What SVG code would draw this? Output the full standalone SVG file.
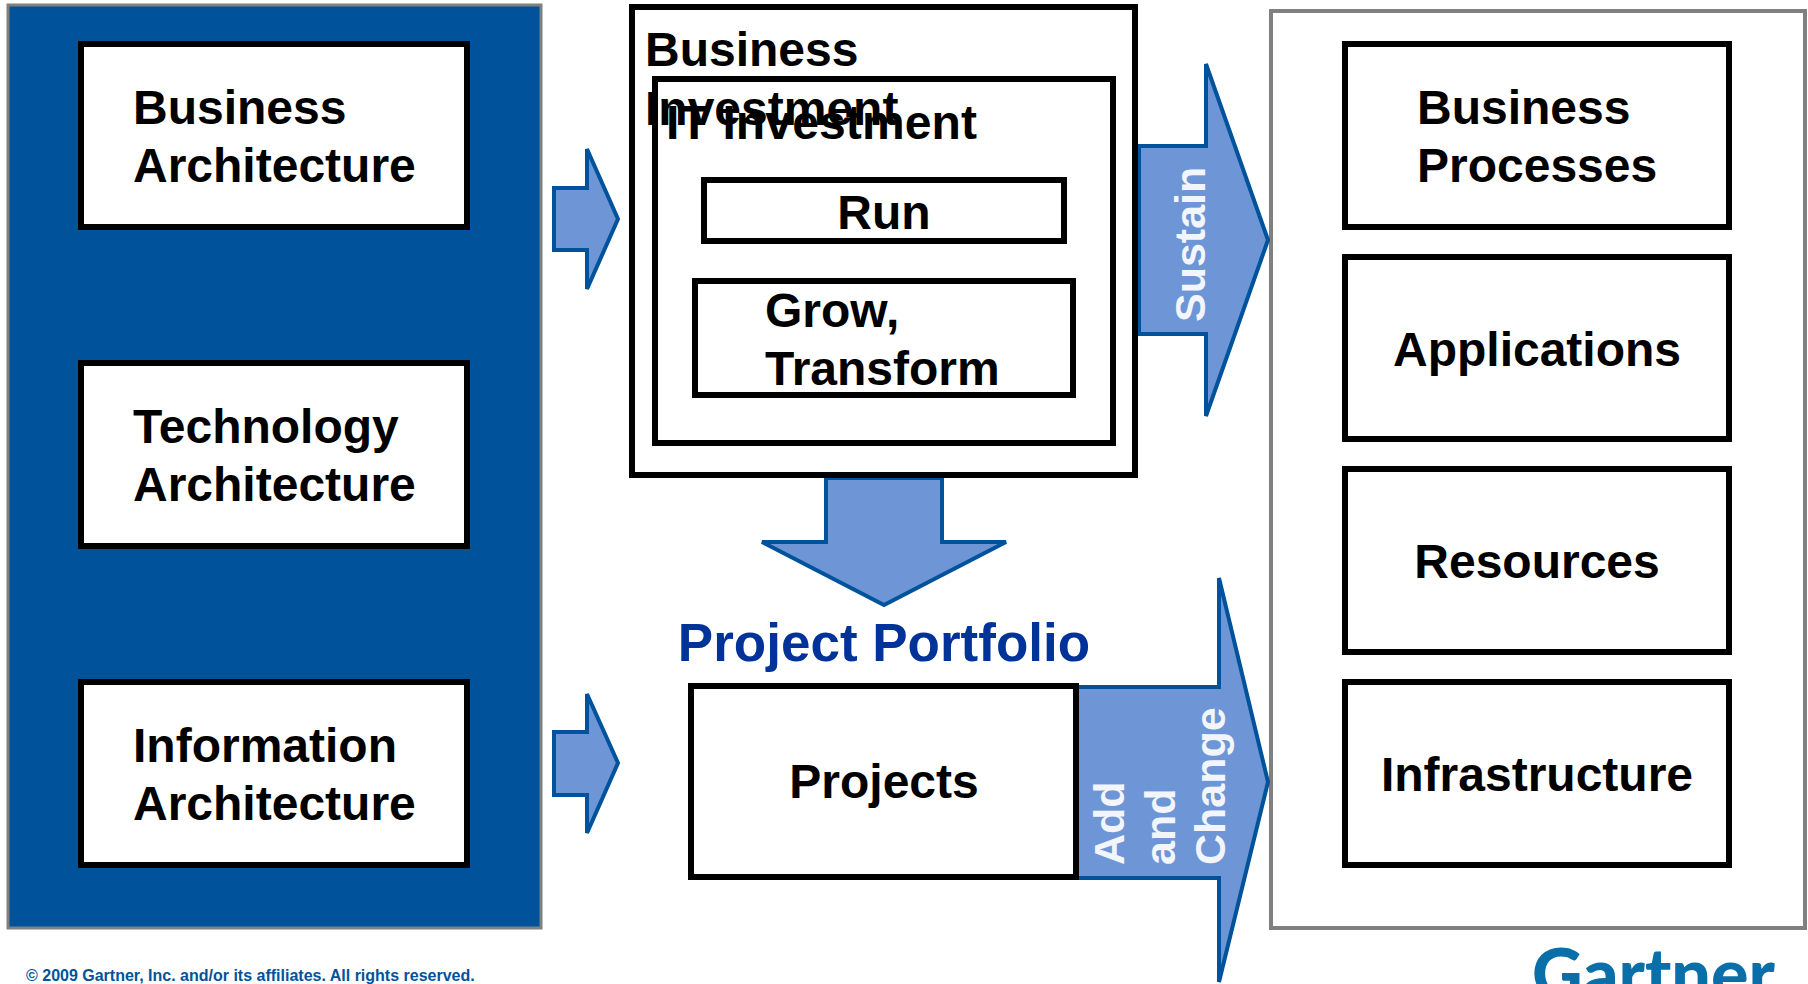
<svg xmlns="http://www.w3.org/2000/svg" width="1808" height="984" viewBox="0 0 1808 984">
<style>
text{font-family:"Liberation Sans",Arial,sans-serif;font-weight:700}
.b{fill:#fff;stroke:#000;stroke-width:6}
.t{font-size:48px;fill:#000}
.m{text-anchor:middle}
.a{fill:#6e95d5;stroke:#00539b;stroke-width:4}
.v{font-size:43px;fill:#f2f5fb}
</style>
<rect width="1808" height="984" fill="#fff"/>
<g id="architecture-panel"><rect x="8" y="5" width="533" height="923" fill="#00539b" stroke="#808080" stroke-width="3"/></g>
<g id="outcomes-panel"><rect x="1271" y="11" width="534" height="917" fill="#fff" stroke="#808080" stroke-width="4"/></g>
<g id="connectors">
<path class="a" d="M554 188H587V149L618 219L587 289V250H554Z"/>
<path class="a" d="M554 732H587V694L618 763L587 833V795H554Z"/>
<path class="a" d="M1139 146H1206V64L1268 240L1206 416V334H1139Z"/>
<path class="a" d="M826 478H942V542H1006L884 605L762 542H826Z"/>
<path class="a" d="M1077 687H1219V578L1268 782L1219 982V878H1077Z"/>
</g>
<g id="business-architecture"><rect class="b" x="81" y="44" width="386" height="183"/><text class="t" x="133" y="124">Business</text><text class="t" x="133" y="182">Architecture</text></g>
<g id="technology-architecture"><rect class="b" x="81" y="363" width="386" height="183"/><text class="t" x="133" y="443">Technology</text><text class="t" x="133" y="501">Architecture</text></g>
<g id="information-architecture"><rect class="b" x="81" y="682" width="386" height="183"/><text class="t" x="133" y="762">Information</text><text class="t" x="133" y="820">Architecture</text></g>
<g id="business-investment"><rect class="b" x="632" y="7" width="503" height="468"/></g>
<g id="it-investment"><rect class="b" x="655" y="79" width="458" height="364"/><text class="t" x="666" y="139" textLength="311">IT Investment</text></g>
<g id="business-investment-label"><text class="t" x="645" y="66">Business</text><text class="t" x="645" y="125">Investment</text></g>
<g id="run"><rect class="b" x="704" y="180" width="360" height="61"/><text class="t m" x="884" y="229">Run</text></g>
<g id="grow-transform"><rect class="b" x="695" y="281" width="378" height="114"/><text class="t" x="765" y="327" >Grow,</text><text class="t" x="765" y="385">Transform</text></g>
<g id="project-portfolio"><text x="884" y="661" class="m" font-size="53" fill="#003399">Project Portfolio</text></g>
<g id="projects"><rect class="b" x="691" y="686" width="385" height="191"/><text class="t m" x="884" y="798">Projects</text></g>
<g id="sustain-label"><text class="v" transform="translate(1205 322) rotate(-90)">Sustain</text></g>
<g id="add-change-label"><text class="v" transform="translate(1124 865) rotate(-90)">Add</text><text class="v" transform="translate(1175 865) rotate(-90)">and</text><text class="v" transform="translate(1225 865) rotate(-90)">Change</text></g>
<g id="business-processes"><rect class="b" x="1345" y="44" width="384" height="183"/><text class="t" x="1417" y="124">Business</text><text class="t" x="1417" y="182">Processes</text></g>
<g id="applications"><rect class="b" x="1345" y="257" width="384" height="182"/><text class="t m" x="1537" y="366">Applications</text></g>
<g id="resources"><rect class="b" x="1345" y="469" width="384" height="183"/><text class="t m" x="1537" y="578">Resources</text></g>
<g id="infrastructure"><rect class="b" x="1345" y="682" width="384" height="183"/><text class="t m" x="1537" y="791">Infrastructure</text></g>
<g id="copyright"><text x="26" y="981" font-size="16" fill="#00539b">© 2009 Gartner, Inc. and/or its affiliates. All rights reserved.</text></g>
<g id="gartner-logo"><text x="1532" y="999" font-size="70" fill="#0a6fa8" style="font-family:Lato,'Liberation Sans',sans-serif;font-weight:900">Gartner</text></g>
</svg>
